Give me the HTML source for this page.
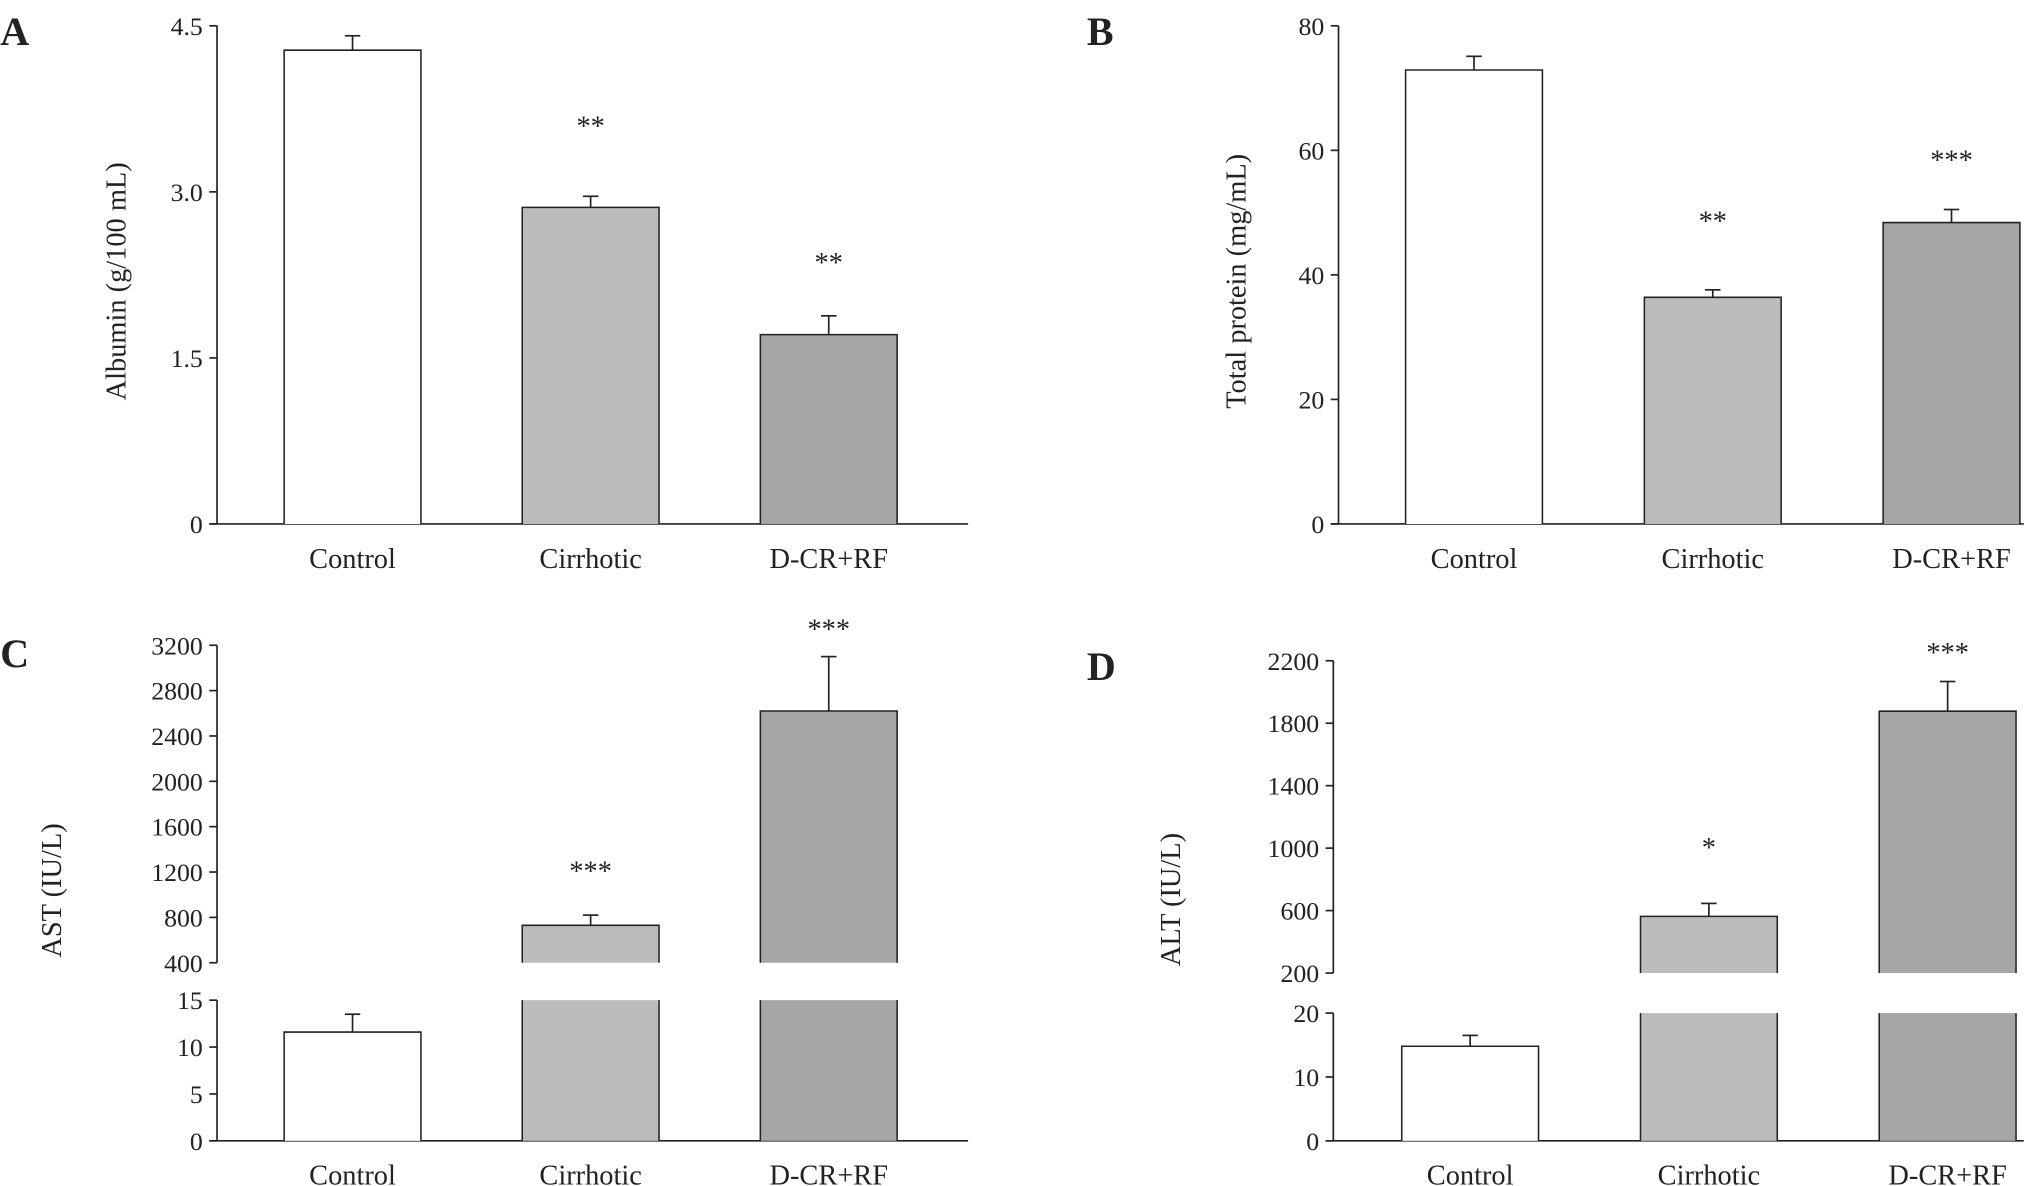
<!DOCTYPE html>
<html><head><meta charset="utf-8">
<style>html,body{margin:0;padding:0;background:#fff}svg{display:block}text{font-family:"Liberation Serif",serif;fill:#222}</style>
</head><body>
<svg id="chart" width="2024" height="1186" viewBox="0 0 1568 919" xmlns="http://www.w3.org/2000/svg"></svg>
<script>
const categories = ["Control","Cirrhotic","D-CR+RF"];
const albuminValues = [4.28, 2.86, 1.71];
const albuminErrors = [0.13, 0.10, 0.17];
const proteinValues = [72.9, 36.4, 48.4];
const proteinErrors = [2.2, 1.2, 2.1];
const astValues = [11.6, 730, 2620];
const astErrors = [1.9, 90, 480];
const altValues = [14.8, 563, 1877];
const altErrors = [1.7, 83, 190];
const albuminTicks = [0, 1.5, 3.0, 4.5];
const proteinTicks = [0, 20, 40, 60, 80];
const astUpperTicks = [400,800,1200,1600,2000,2400,2800,3200];
const astLowerTicks = [0,5,10,15];
const altUpperTicks = [200,600,1000,1400,1800,2200];
const altLowerTicks = [0,10,20];
const albuminStars = ["","**","**"];
const proteinStars = ["","**","***"];
const astStars = ["","***","***"];
const altStars = ["","*","***"];
const colors = ["#ffffff","#bcbcbc","#a6a6a6"];

const svg = document.getElementById('chart');
const NS = "http://www.w3.org/2000/svg";
function mk(tag, attrs, parent, txt){
  const e = document.createElementNS(NS, tag);
  for (const k in attrs) e.setAttribute(k, attrs[k]);
  if (txt !== undefined) e.textContent = txt;
  (parent||svg).appendChild(e);
  return e;
}
function fmt(v, dec){ return (dec && v !== 0) ? v.toFixed(dec) : String(v); }

function panel(cfg){
  const g = mk('g', {});
  
  
  const lt = mk('text', {x:cfg.letter[0], y:cfg.letter[1], 'font-size':31, 'font-weight':'bold'}, g, cfg.letterText);
  
  
  const ax = cfg.axisX;
  const segs = cfg.segs;
  const lowSeg = segs[segs.length-1];
  function segY(s, v){ return s.yBot - (v - s.min)/(s.max - s.min)*(s.yBot - s.yTop); }
  function yOf(v){
    for (const s of segs){ if (v >= s.min || s === lowSeg) { return segY(s, Math.min(v, s.max)); } }
  }
  segs.forEach(s=>{
    const a = mk('line', {x1:ax, y1:s.yTop, x2:ax, y2:s.yBot, stroke:'#222', 'stroke-width':1.3}, g);
    
    
    s.ticks.forEach(t=>{
      const y = segY(s, t);
      mk('line', {x1:ax-6, y1:y, x2:ax, y2:y, stroke:'#222', 'stroke-width':1.3}, g);
      const tl = mk('text', {x:ax-11, y:y+7, 'font-size':20, 'text-anchor':'end'}, g, fmt(t, s.dec));
      
      
    });
  });
  const xa = mk('line', {x1:ax-6, y1:lowSeg.yBot, x2:cfg.axisEnd, y2:lowSeg.yBot, stroke:'#222', 'stroke-width':1.3}, g);
  
  
  const yt = mk('text', {x:0, y:0, 'font-size':22, 'text-anchor':'middle', transform:`translate(${cfg.title[0]},${cfg.title[1]}) rotate(-90)`}, g, cfg.titleText);
  
  
  cfg.values.forEach((v,i)=>{
    const x0 = cfg.barX[0] + i*cfg.barStep, w = cfg.barW;
    segs.forEach(s=>{
      if (v <= s.min && s !== lowSeg) return;
      const clipped = v > s.max;
      const top = segY(s, Math.min(v, s.max));
      const b = mk('rect', {x:x0, y:top, width:w, height:s.yBot-top, fill:colors[i]}, g);
      
      
      const d = clipped ? `M${x0},${s.yBot}V${top}M${x0+w},${top}V${s.yBot}`
                        : `M${x0},${s.yBot}V${top}H${x0+w}V${s.yBot}`;
      mk('path', {d:d, fill:'none', stroke:'#222', 'stroke-width':1.2}, g);
    });
    const top = yOf(v), ey = yOf(v + cfg.errors[i]), cx = x0 + w/2;
    const e1 = mk('line', {x1:cx, y1:top, x2:cx, y2:ey, stroke:'#222', 'stroke-width':1.3}, g);
    
    
    mk('line', {x1:cx-6, y1:ey, x2:cx+6, y2:ey, stroke:'#222', 'stroke-width':1.3}, g);
    if (cfg.stars[i]){
      const st = mk('text', {x:cx, y:ey - cfg.starOff[i], 'font-size':22, 'text-anchor':'middle'}, g, cfg.stars[i]);
      
      
    }
    const cl = mk('text', {x:cx, y:lowSeg.yBot + 34, 'font-size':22, 'text-anchor':'middle'}, g, categories[i]);
    
    
  });
}

panel({name:'panel-a-albumin', letterText:'A', letter:[0,35], axisX:168, axisEnd:750, title:[97,218], titleText:'Albumin (g/100 mL)',
  segs:[{min:0,max:4.5,yTop:20,yBot:406,ticks:albuminTicks,dec:1}], barX:[220], barStep:184.5, barW:106, starOff:[0,47,34],
  values:albuminValues, errors:albuminErrors, stars:albuminStars});
panel({name:'panel-b-total-protein', letterText:'B', letter:[842,35], axisX:1037, axisEnd:1568, title:[965,218], titleText:'Total protein (mg/mL)',
  segs:[{min:0,max:80,yTop:20,yBot:406,ticks:proteinTicks,dec:0}], barX:[1089], barStep:185, barW:106, starOff:[0,46,31],
  values:proteinValues, errors:proteinErrors, stars:proteinStars});
panel({name:'panel-c-ast', letterText:'C', letter:[0,517], axisX:168, axisEnd:750, title:[47,690], titleText:'AST (IU/L)',
  segs:[{min:400,max:3200,yTop:500,yBot:746,ticks:astUpperTicks,dec:0},{min:0,max:15,yTop:775,yBot:884,ticks:astLowerTicks,dec:0}],
  barX:[220], barStep:184.5, barW:106, starOff:[0,27,14], values:astValues, errors:astErrors, stars:astStars});
panel({name:'panel-d-alt', letterText:'D', letter:[842,527], axisX:1033, axisEnd:1568, title:[914,697], titleText:'ALT (IU/L)',
  segs:[{min:200,max:2200,yTop:512,yBot:754,ticks:altUpperTicks,dec:0},{min:0,max:20,yTop:785,yBot:884,ticks:altLowerTicks,dec:0}],
  barX:[1086], barStep:185, barW:106, starOff:[0,36,15], values:altValues, errors:altErrors, stars:altStars});
</script>
</body></html>
